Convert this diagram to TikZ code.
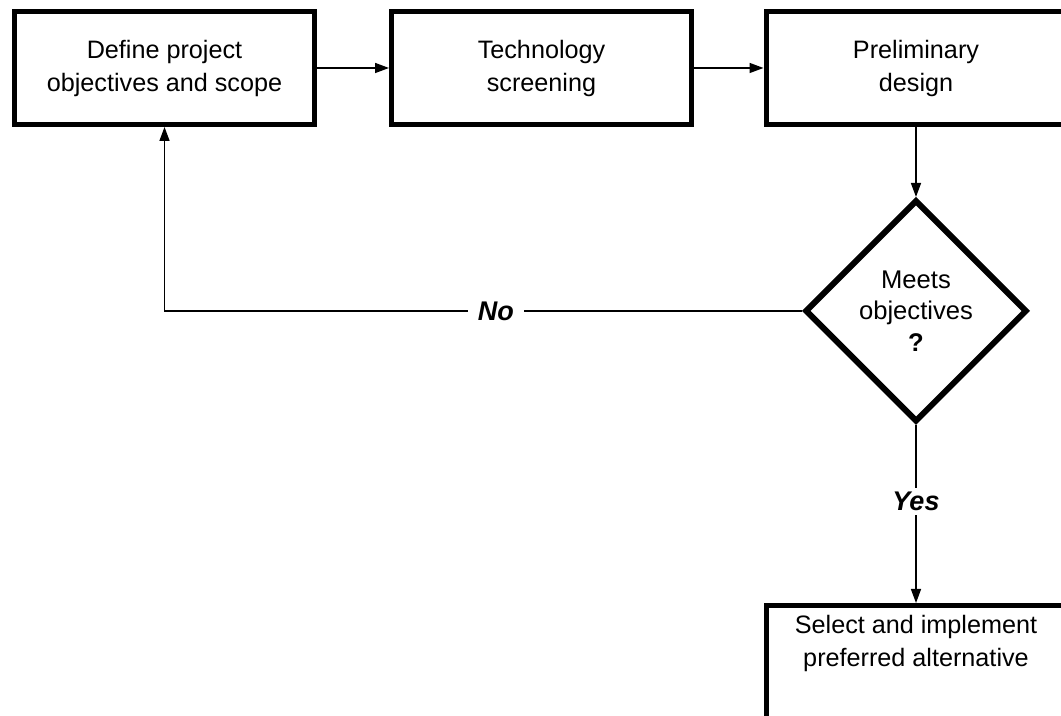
\documentclass[tikz,border=0pt]{standalone}
\usepackage{fontspec}
\setmainfont{Liberation Sans}
\usetikzlibrary{arrows.meta,positioning,shapes.geometric}

\begin{document}
\begin{tikzpicture}[
    x=0.5pt, y=0.5pt,
    box/.style={draw, line width=2.5pt, minimum width=150pt, minimum height=56.5pt,
                align=center, font=\fontsize{12.6}{16.5}\selectfont},
    decision/.style={draw, diamond, line width=3pt, minimum width=111pt,
                     minimum height=111pt, inner sep=0pt, align=center,
                     font=\fontsize{12.8}{15.8}\selectfont},
    flow/.style={line width=0.75pt, -{Triangle[length=7pt, width=5pt]}},
    answer/.style={fill=white, inner xsep=5pt, inner ysep=2pt,
                   font=\fontsize{13.5}{15}\selectfont\bfseries\itshape}
]
    \useasboundingbox (0,0) rectangle (1061,716);
    \clip (0,0) rectangle (1061,716);

    % Process boxes
    \node[box] (def) at (164.5, 648) {Define project\\objectives and scope};
    \node[box] (tech) at (541.5, 648) {Technology\\screening};
    \node[box] (pre) at (916, 648) {Preliminary\\design};

    % Decision
    \node[decision] (meets) at (916, 405) {Meets\\objectives\\\textbf{?}};

    % Final box (runs off the page)
    \node[box, anchor=north, minimum height=80pt] (sel) at (916, 113) {};
    \node[align=center, font=\fontsize{12.6}{16.5}\selectfont] (seltxt) at (916, 73)
        {Select and implement\\preferred alternative};

    % Arrows
    \foreach \a/\b in {def/tech, tech/pre, pre/meets} {
        \draw[flow] (\a) -- (\b);
    }
    \draw[flow] (meets) -- node[answer, pos=0.43] {Yes} (sel);
    \draw[flow] (meets) -| node[answer, pos=0.24] {No} (def);
\end{tikzpicture}
\end{document}
